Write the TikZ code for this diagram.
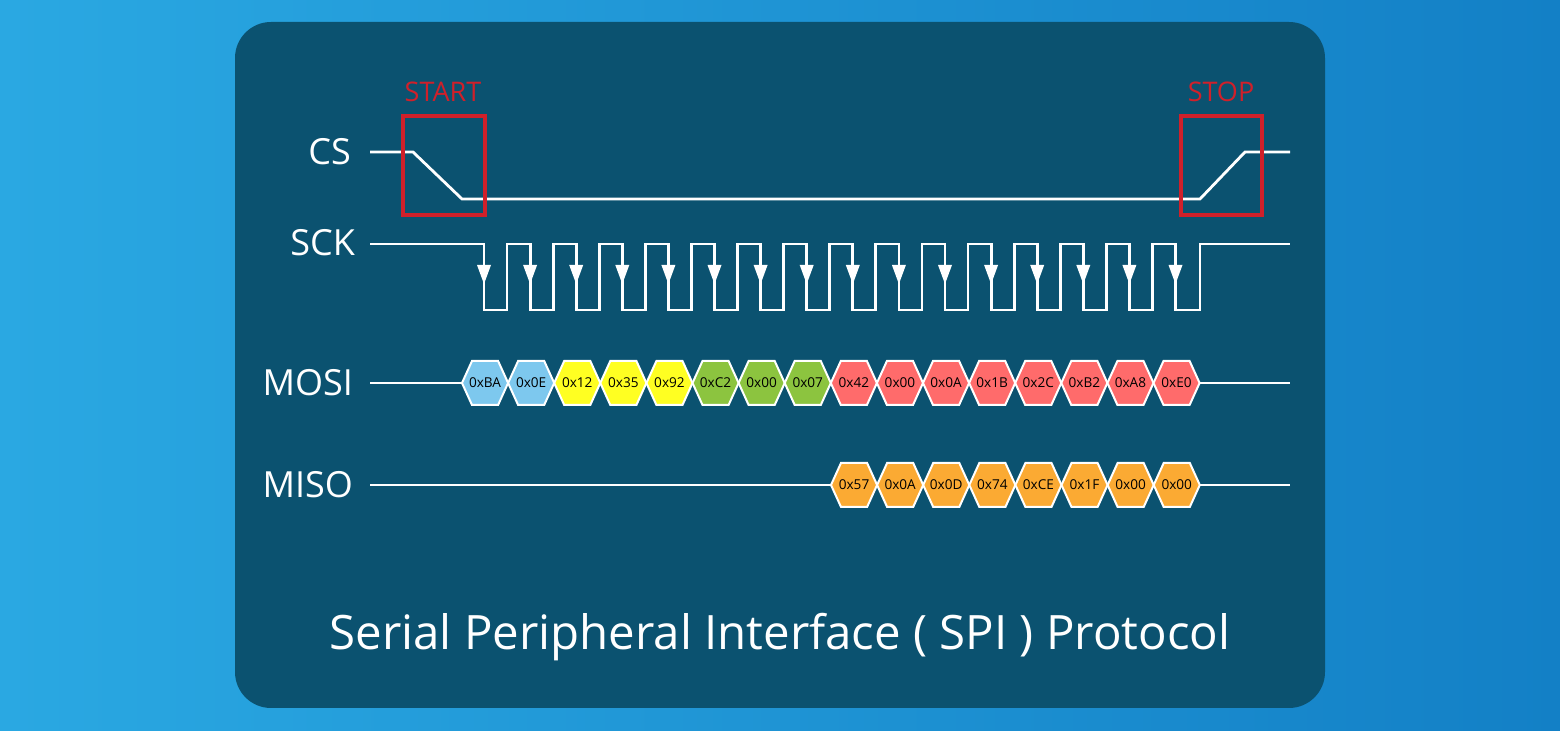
\documentclass[tikz,border=0pt]{standalone}
\usepackage{fontspec}
\setmainfont{Open Sans}
\usetikzlibrary{arrows.meta}
\definecolor{panel}{HTML}{0B5270}
\definecolor{skyA}{HTML}{2AA8E2}
\definecolor{skyB}{HTML}{1380C6}
\definecolor{startred}{HTML}{D0202A}
\definecolor{hexblue}{HTML}{7DC8EE}
\definecolor{hexyellow}{HTML}{FFFF22}
\definecolor{hexgreen}{HTML}{8CC43F}
\definecolor{hexred}{HTML}{FF6B6B}
\definecolor{hexorange}{HTML}{FBAA33}
\tikzset{
  wire/.style={draw=white, line width=1.4pt},
  siglabel/.style={text=white, font=\fontsize{18}{18}\selectfont, anchor=east},
  hexbox/.style={draw=white, line width=1pt},
  hextext/.style={font=\fontsize{6.8}{7}\selectfont, text=black},
  markbox/.style={draw=startred, line width=1.8pt},
  marklabel/.style={text=startred, font=\fontsize{13.5}{13.5}\selectfont}
}
\begin{document}
\begin{tikzpicture}[x=0.5pt, y=-0.5pt]
\useasboundingbox (0,0) rectangle (1560,731);
\shade[left color=skyA, right color=skyB] (0,0) rectangle (1560,731);
\fill[panel, rounded corners=18pt] (235,22) rectangle (1325,708);

\def\period{46.1}
\def\hexw{46.1}

% labels
\node[siglabel] (cs) at (358,152) {CS};
\node[siglabel] (sck) at (362,243) {SCK};
\node[siglabel] (mosi) at (360,383) {MOSI};
\node[siglabel] (miso) at (360,485) {MISO};

% CS
\draw[wire] (370,152) -- (413,152) -- (462,199) -- (1200,199) -- (1245,152) -- (1290,152);
\draw[markbox] (403,116) rectangle (485,215);
\draw[markbox] (1181,116) rectangle (1262,215);
\node[marklabel] (start) at (443,92) {START};
\node[marklabel] (stop) at (1221,92) {STOP};

% SCK
\draw[wire] (370,244) -- (484,244)
  \foreach \k in {0,...,14} { -- ({484+\k*\period},310) -- ({507+\k*\period},310)
    -- ({507+\k*\period},244) -- ({484+(\k+1)*\period},244) }
  -- ({484+15*\period},310) -- (1200,310) -- (1200,244) -- (1290,244);
\foreach \k in {0,...,15}
  \fill[white] ({484+\k*\period-7},265) -- ({484+\k*\period+7},265) -- ({484+\k*\period},284) -- cycle;

% MOSI
\draw[wire] (370,383) -- (462,383);
\foreach \v/\c [count=\i from 0] in {0xBA/hexblue,0x0E/hexblue,0x12/hexyellow,0x35/hexyellow,
  0x92/hexyellow,0xC2/hexgreen,0x00/hexgreen,0x07/hexgreen,0x42/hexred,0x00/hexred,
  0x0A/hexred,0x1B/hexred,0x2C/hexred,0xB2/hexred,0xA8/hexred,0xE0/hexred} {
  \def\x{462+\i*\hexw}
  \filldraw[hexbox, fill=\c] ({\x},383) -- ({\x+10},361) -- ({\x+\hexw-10},361) -- ({\x+\hexw},383)
    -- ({\x+\hexw-10},405) -- ({\x+10},405) -- cycle;
  \node[hextext] (mosi\i) at ({\x+\hexw/2},383) {\v};
}
\draw[wire] (1200,383) -- (1290,383);

% MISO
\draw[wire] (370,485) -- (831,485);
\foreach \v [count=\i from 0] in {0x57,0x0A,0x0D,0x74,0xCE,0x1F,0x00,0x00} {
  \def\x{831+\i*\hexw}
  \filldraw[hexbox, fill=hexorange] ({\x},485) -- ({\x+10},463) -- ({\x+\hexw-10},463) -- ({\x+\hexw},485)
    -- ({\x+\hexw-10},507) -- ({\x+10},507) -- cycle;
  \node[hextext] (miso\i) at ({\x+\hexw/2},485) {\v};
}
\draw[wire] (1200,485) -- (1290,485);

\node[text=white, font=\fontsize{23.7}{24}\selectfont] (title) at (780,637) {Serial Peripheral Interface ( SPI ) Protocol};
\end{tikzpicture}
\end{document}
